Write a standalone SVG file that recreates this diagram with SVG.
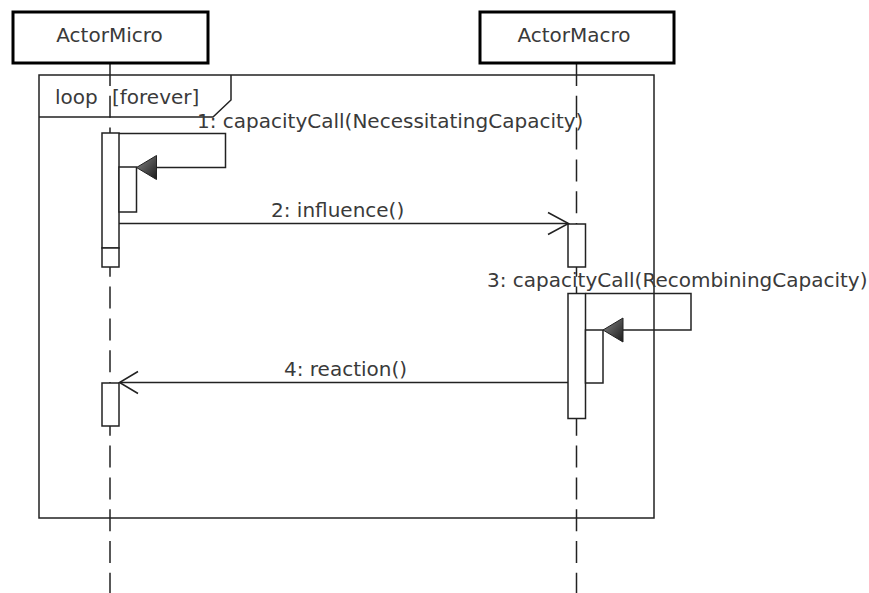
<svg xmlns="http://www.w3.org/2000/svg" width="869" height="593" viewBox="0 0 869 593">
<defs>
<linearGradient id="tri" x1="0" y1="0" x2="1" y2="1">
<stop offset="0" stop-color="#888"/>
<stop offset="1" stop-color="#1a1a1a"/>
</linearGradient>
</defs>
<style>
text{font-family:"DejaVu Sans","Liberation Sans",sans-serif;font-size:20px;fill:#3a3a3a}
.actor{fill:#fff;stroke:#000;stroke-width:3}
.life{stroke:#222;stroke-width:1.5;stroke-dasharray:22 9.8;fill:none}
.ln{stroke:#222;stroke-width:1.5;fill:none}
.act{fill:#fff;stroke:#222;stroke-width:1.5}
.tri{fill:url(#tri);stroke:#222;stroke-width:1}
</style>
<rect width="869" height="593" fill="#fff"/>
<g id="loop-frame">
<rect x="39" y="75" width="615" height="443" class="ln"/>
<path d="M39 117 H213 L231 100 V75" class="ln"/>
<text x="55" y="104">loop</text>
<text x="112" y="104">[forever]</text>
</g>
<g id="ActorMicro">
<line x1="110" y1="64" x2="110" y2="593" class="life"/>
<rect x="13" y="12" width="195" height="51" class="actor"/>
<text x="109.5" y="41.5" text-anchor="middle">ActorMicro</text>
</g>
<g id="ActorMacro">
<line x1="576.5" y1="64" x2="576.5" y2="593" class="life"/>
<rect x="480" y="12" width="194" height="51" class="actor"/>
<text x="574" y="41.5" text-anchor="middle">ActorMacro</text>
</g>
<g id="activations">
<rect x="102" y="133" width="17" height="115" class="act"/>
<rect x="102" y="248" width="17" height="19" class="act"/>
<rect x="119" y="167" width="17.5" height="45" class="act"/>
<rect x="568" y="224" width="17.5" height="43" class="act"/>
<rect x="568" y="293.5" width="17.5" height="125" class="act"/>
<rect x="585.5" y="330" width="17.5" height="53" class="act"/>
<rect x="102" y="383" width="17" height="43" class="act"/>
</g>
<g id="connectors">
<path d="M119 133.5 H225.5 V167.5 H156" class="ln"/>
<polygon points="136.5,167.5 156.5,155.5 156.5,179.5" class="tri"/>
<line x1="119" y1="223.5" x2="568" y2="223.5" class="ln"/>
<path d="M548 212.5 L568.5 223.5 L548 234.5" class="ln"/>
<path d="M585.5 293.5 H691 V330 H623" class="ln"/>
<polygon points="603,330 623,318 623,342" class="tri"/>
<line x1="568" y1="382.5" x2="120" y2="382.5" class="ln"/>
<path d="M138 371.5 L119.5 382.5 L138 393.5" class="ln"/>
</g>
<g id="labels">
<text x="197" y="128">1: capacityCall(NecessitatingCapacity)</text>
<text x="271" y="217">2: influence()</text>
<text x="487" y="287">3: capacityCall(RecombiningCapacity)</text>
<text x="284" y="376">4: reaction()</text>
</g>
</svg>
